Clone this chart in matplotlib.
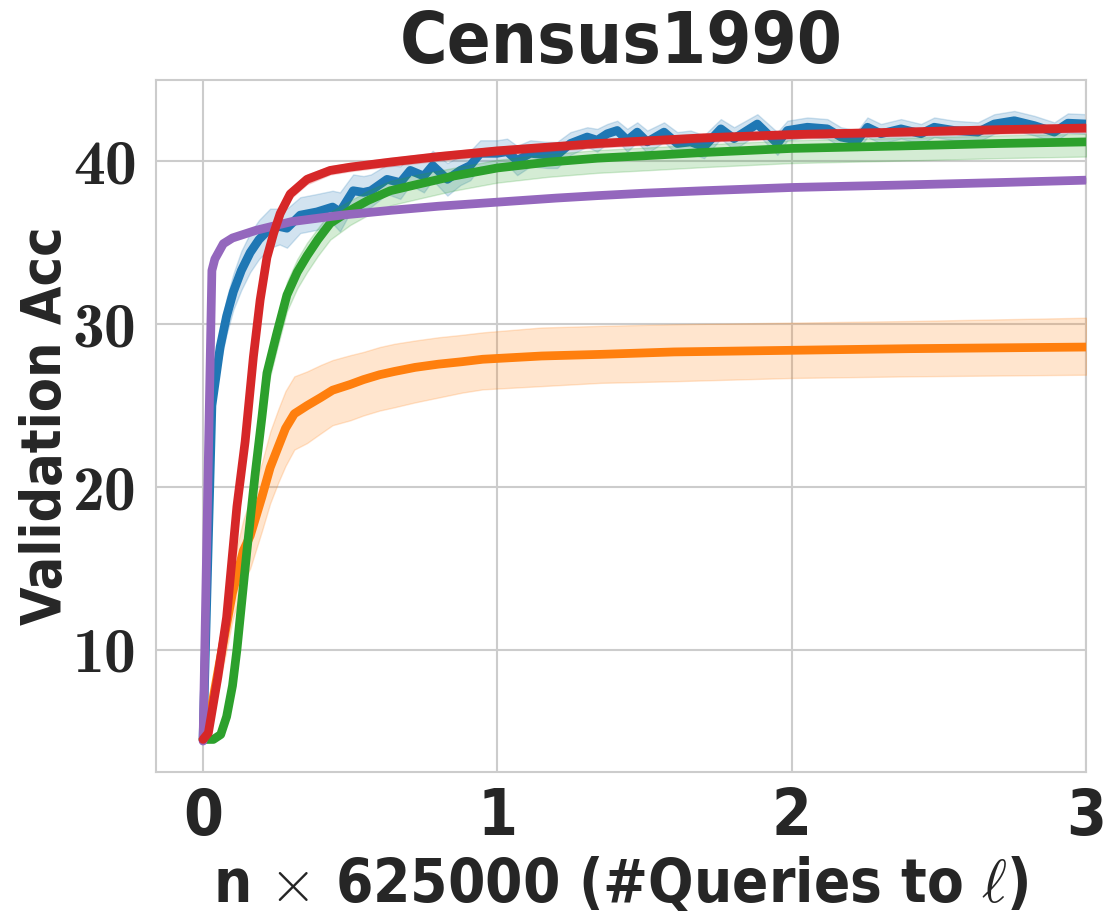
import matplotlib
matplotlib.use("Agg")
import matplotlib.pyplot as plt
import numpy as np

# ---------------- data ----------------
blue_x = [0, 0.03, 0.058, 0.08, 0.103, 0.13, 0.16, 0.19, 0.228, 0.26, 0.285, 0.33, 0.387, 0.44, 0.465,
          0.51, 0.545, 0.57, 0.625, 0.67, 0.704, 0.75, 0.78, 0.83, 0.874, 0.908, 0.942, 0.999, 1.033,
          1.067, 1.112, 1.169, 1.203, 1.248, 1.305, 1.339, 1.373, 1.407, 1.441, 1.475, 1.509, 1.566,
          1.611, 1.656, 1.702, 1.759, 1.804, 1.883, 1.951, 1.985, 2.053, 2.121, 2.167, 2.223, 2.257,
          2.303, 2.371, 2.439, 2.484, 2.552, 2.632, 2.688, 2.756, 2.824, 2.892, 2.938, 3.0]
blue_y = [4.5, 25.0, 28.6, 30.5, 32.0, 33.3, 34.4, 35.2, 35.9, 36.0, 35.9, 36.7, 36.9, 37.2, 36.9,
          38.2, 38.1, 38.2, 38.9, 38.7, 39.45, 39.1, 39.75, 38.9, 39.45, 39.75, 40.5, 40.5, 40.6,
          40.06, 40.5, 40.4, 40.4, 41.1, 41.5, 41.3, 41.7, 41.9, 41.3, 41.8, 41.2, 41.8,
          41.1, 41.2, 40.9, 42.0, 41.4, 42.3, 41.1, 41.9, 42.1, 42.0, 41.5, 41.3, 42.1,
          41.7, 42.0, 41.7, 42.1, 41.9, 41.8, 42.3, 42.5, 42.2, 41.8, 42.35, 42.3]
blue_err = [0.1, 0.8, 1.0, 1.1, 1.1, 1.2, 1.2, 1.2, 1.2, 1.1, 1.2, 1.1, 1.1, 1.0, 1.2,
            1.0, 1.0, 1.0, 0.9, 1.0, 0.9, 1.0, 0.9, 1.0, 0.9, 0.9, 0.8, 0.8, 0.8,
            0.9, 0.8, 0.8, 0.8, 0.7, 0.6, 0.7, 0.6, 0.6, 0.7, 0.6, 0.7, 0.6,
            0.7, 0.7, 0.7, 0.6, 0.7, 0.6, 0.7, 0.6, 0.6, 0.6, 0.6, 0.6, 0.6,
            0.6, 0.6, 0.6, 0.6, 0.6, 0.6, 0.6, 0.6, 0.6, 0.6, 0.6, 0.6]

orange_x = [0, 0.024, 0.064, 0.1, 0.137, 0.16, 0.2, 0.228, 0.256, 0.28, 0.31, 0.353, 0.4, 0.44,
            0.5, 0.545, 0.6, 0.65, 0.72, 0.8, 0.88, 0.95, 1.05, 1.15, 1.35, 1.6, 2.0, 2.4, 2.7, 3.0]
orange_y = [4.5, 6.0, 10.0, 13.5, 16.1, 17.0, 19.4, 21.2, 22.5, 23.6, 24.5, 25.0, 25.5, 25.95,
            26.3, 26.6, 26.9, 27.1, 27.35, 27.55, 27.7, 27.85, 27.95, 28.05, 28.15, 28.3, 28.4, 28.5, 28.55, 28.6]
orange_hi = [4.6, 7.0, 11.5, 15.2, 18.0, 19.2, 21.5, 23.4, 24.8, 25.9, 26.8, 27.1, 27.5, 27.8,
             28.1, 28.3, 28.6, 28.8, 29.0, 29.2, 29.35, 29.5, 29.65, 29.8, 29.9, 30.0, 30.1, 30.2, 30.3, 30.4]
orange_lo = [4.4, 5.0, 8.6, 11.8, 14.2, 15.0, 17.3, 19.0, 20.3, 21.3, 22.3, 22.7, 23.3, 23.8,
             24.1, 24.4, 24.7, 24.9, 25.2, 25.5, 25.8, 26.0, 26.1, 26.2, 26.4, 26.5, 26.7, 26.8, 26.85, 26.9]

green_x = [0, 0.035, 0.06, 0.08, 0.1, 0.115, 0.149, 0.177, 0.2, 0.217, 0.25, 0.285, 0.32, 0.353,
           0.39, 0.432, 0.5, 0.56, 0.636, 0.73, 0.85, 1.0, 1.17, 1.34, 1.5, 1.7, 2.0, 2.37, 2.7, 3.0]
green_y = [4.5, 4.5, 4.8, 5.9, 7.8, 10.0, 16.1, 20.8, 24.3, 27.0, 29.4, 31.8, 33.2, 34.2,
           35.2, 36.2, 37.0, 37.6, 38.2, 38.6, 39.1, 39.6, 39.95, 40.2, 40.35, 40.55, 40.8, 40.95, 41.1, 41.2]
green_up = [0.1, 0.1, 0.2, 0.4, 0.6, 0.8, 0.9, 0.9, 0.9, 0.9, 0.9, 0.8, 0.8, 0.8,
            0.7, 0.7, 0.6, 0.6, 0.6, 0.6, 0.5, 0.5, 0.5, 0.5, 0.5, 0.5, 0.5, 0.5, 0.5, 0.5]
green_dn = [0.1, 0.1, 0.2, 0.4, 0.6, 0.8, 1.0, 1.0, 1.0, 1.0, 1.0, 1.0, 1.0, 1.0,
            1.0, 1.0, 0.9, 0.9, 0.9, 0.9, 0.9, 0.9, 0.9, 0.9, 0.9, 0.9, 0.9, 0.9, 0.9, 0.9]

purple_x = [0, 0.03, 0.04, 0.069, 0.1, 0.18, 0.3, 0.47, 0.64, 0.8, 1.0, 1.2, 1.34, 1.5, 1.7,
            2.0, 2.37, 2.7, 3.0]
purple_y = [4.4, 33.3, 34.0, 34.95, 35.3, 35.77, 36.3, 36.7, 37.0, 37.25, 37.5, 37.75, 37.9, 38.05, 38.2,
            38.4, 38.55, 38.7, 38.85]
purple_err = [0.1, 0.3, 0.3, 0.25, 0.2, 0.2, 0.15, 0.15, 0.15, 0.15, 0.15, 0.15, 0.15, 0.15, 0.15,
              0.15, 0.15, 0.15, 0.15]

red_x = [0, 0.018, 0.05, 0.08, 0.115, 0.143, 0.171, 0.194, 0.217, 0.24, 0.262, 0.296, 0.353, 0.432,
         0.5, 0.636, 0.8, 1.0, 1.34, 1.7, 2.0, 2.37, 2.7, 3.0]
red_y = [4.5, 4.9, 8.3, 12.0, 18.8, 22.8, 28.0, 31.5, 34.1, 35.6, 36.8, 38.0, 38.9, 39.45,
         39.65, 39.96, 40.3, 40.65, 41.1, 41.45, 41.65, 41.8, 41.95, 42.05]
red_err = [0.1, 0.3, 0.5, 0.6, 0.7, 0.7, 0.7, 0.6, 0.5, 0.4, 0.4, 0.3, 0.3, 0.25,
           0.25, 0.25, 0.25, 0.25, 0.25, 0.25, 0.25, 0.25, 0.25, 0.25]

x_ticks = [0, 1, 2, 3]
x_ticklabels = ["0", "1", "2", "3"]
y_ticks = [10, 20, 30, 40]
y_ticklabels = ["10", "20", "30", "40"]

title = "Census1990"
xlabel = r"n $\times$ 625000 (#Queries to $\ell$)"
ylabel = "Validation Acc"

# ---------------- style ----------------
plt.rcParams["mathtext.fontset"] = "cm"
TEXT = "#262626"
GRID = "#cccccc"
SANS = dict(family="DejaVu Sans", stretch="condensed", weight="bold")

fig = plt.figure(figsize=(11.18, 9.22), dpi=100)
ax = fig.add_axes([0.1395, 0.1627, 0.832, 0.7505])
ax.set_facecolor("white")

series = [
    ("#1f77b4", blue_x, blue_y, np.array(blue_y) - np.array(blue_err), np.array(blue_y) + np.array(blue_err)),
    ("#ff7f0e", orange_x, orange_y, orange_lo, orange_hi),
    ("#2ca02c", green_x, green_y, np.array(green_y) - np.array(green_dn), np.array(green_y) + np.array(green_up)),
    ("#9467bd", purple_x, purple_y, np.array(purple_y) - np.array(purple_err), np.array(purple_y) + np.array(purple_err)),
    ("#d62728", red_x, red_y, np.array(red_y) - np.array(red_err), np.array(red_y) + np.array(red_err)),
]
for i, (c, x, y, lo, hi) in enumerate(series):
    ax.fill_between(x, lo, hi, color=c, alpha=0.2, linewidth=1.0, zorder=2 + i)
    ax.plot(x, y, color=c, linewidth=6.3, solid_capstyle="round", solid_joinstyle="round", zorder=3 + i)

ax.set_xlim(-0.16, 3.0)
ax.set_ylim(2.5, 45)
ax.set_xticks(x_ticks)
ax.set_xticklabels(x_ticklabels, color=TEXT, fontsize=46, **SANS)
ax.set_yticks(y_ticks)
ax.set_yticklabels(y_ticklabels, color=TEXT, fontsize=46, family="cmb10")
ax.tick_params(axis="both", length=0)
ax.tick_params(axis="x", pad=10)
ax.tick_params(axis="y", pad=14)

ax.grid(True, color=GRID, linewidth=1.5)
ax.set_axisbelow(True)
for s in ax.spines.values():
    s.set_color(GRID)
    s.set_linewidth(1.5)

ax.set_title(title, color=TEXT, fontsize=52, pad=12, **SANS)
ax.set_xlabel(xlabel, color=TEXT, fontsize=43, labelpad=6, **SANS)
ax.set_ylabel(ylabel, color=TEXT, fontsize=40, **SANS)
ax.yaxis.set_label_coords(-0.089, 0.5)

fig.savefig("out.png", dpi=100, facecolor="white")
